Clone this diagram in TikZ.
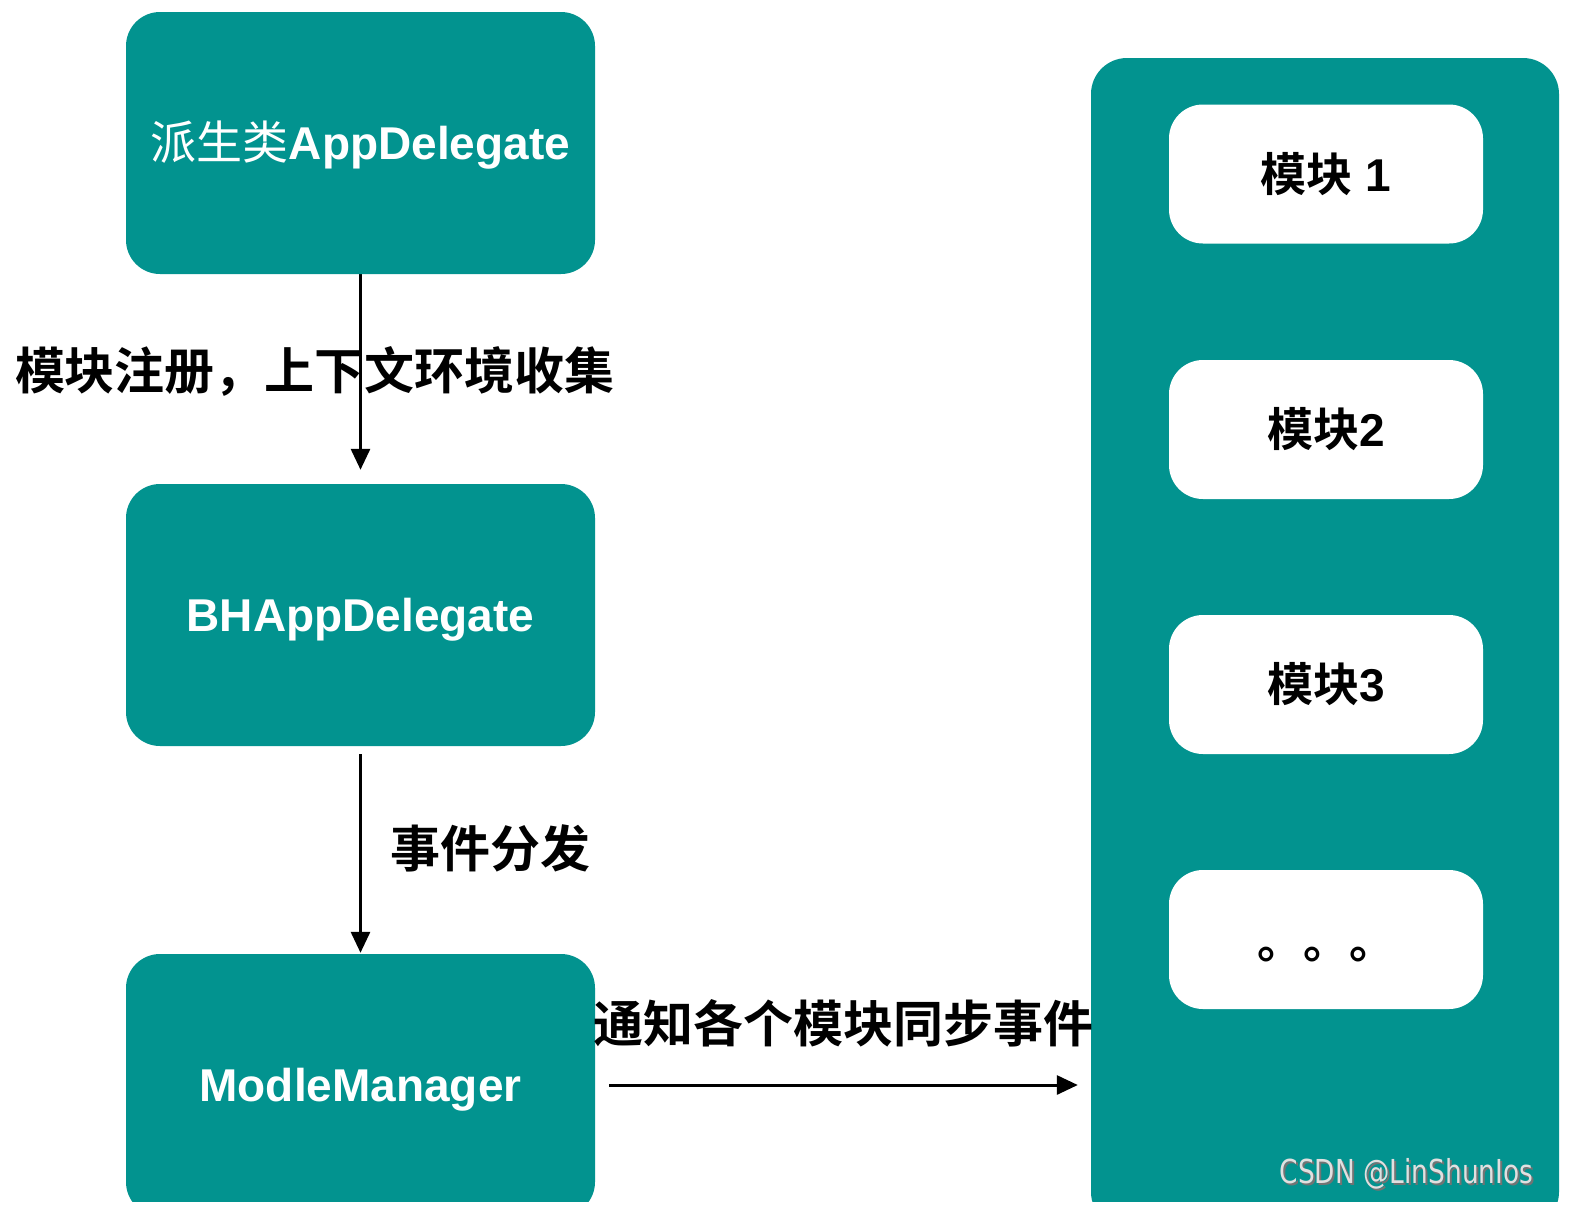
\documentclass[tikz,border=0pt]{standalone}
\usepackage{fontspec}
\setmainfont{Liberation Sans}
\newfontfamily\cjk{Noto Sans CJK SC}[BoldFont={Noto Sans CJK SC Bold}]
\newfontfamily\wmark{DejaVu Sans}
\usetikzlibrary{arrows.meta}
\definecolor{bhTeal}{RGB}{2,147,143}
\tikzset{
    TEAL_BOX/.style={fill=bhTeal, shape=rectangle, rounded corners=34pt,
        minimum width=469pt, minimum height=262pt, inner sep=0pt,
        text height=33pt, text depth=0pt,
        text=white, font={\bfseries\fontsize{46}{54}\selectfont}},
    PANEL/.style={fill=bhTeal, shape=rectangle, rounded corners=36pt,
        minimum width=468pt, minimum height=1170pt, inner sep=0pt},
    MODULE_BOX/.style={fill=white, shape=rectangle, rounded corners=34pt,
        minimum width=314pt, minimum height=139pt, inner sep=0pt,
        font={\bfseries\fontsize{46}{54}\selectfont}},
    LABEL/.style={inner sep=0pt, font={\cjk\bfseries\fontsize{50}{60}\selectfont}},
    EDGE/.style={draw=black, line width=3pt, -{Triangle[length=21pt,width=19pt]}}
}
\pgfdeclarelayer{edgelayer}
\pgfdeclarelayer{nodelayer}
\pgfsetlayers{edgelayer,nodelayer,main}

\begin{document}
\begin{tikzpicture}[x=1pt,y=-1pt]
    \useasboundingbox (0,0) rectangle (1580,1216);
    \begin{pgfonlayer}{nodelayer}
        \node [TEAL_BOX] (1) at (360.5, 143) {{\cjk\mdseries 派生类}AppDelegate};
        \node [TEAL_BOX] (2) at (360.5, 615) {BHAppDelegate};
        \node [TEAL_BOX] (3) at (360.5, 1085) {ModleManager};
        \node [PANEL] (4) at (1325, 643) {};
        \node [MODULE_BOX] (5) at (1326, 174) {{\cjk 模块} 1};
        \node [MODULE_BOX] (6) at (1326, 429.5) {{\cjk 模块}2};
        \node [MODULE_BOX] (7) at (1326, 684.5) {{\cjk 模块}3};
        \node [MODULE_BOX] (8) at (1326, 939.5) {\smash{\raisebox{-19pt}{\cjk 。。。}}};
        \node [LABEL] (9) at (315, 371) {模块注册，上下文环境收集};
        \node [LABEL] (10) at (490, 848) {事件分发};
        \node [LABEL] (11) at (843, 1023) {通知各个模块同步事件};
        \node [anchor=east, xscale=0.8, text=black!55, font={\wmark\fontsize{33}{38}\selectfont}] (12) at (1538, 1176) {CSDN @LinShunIos};
        \node [anchor=east, xscale=0.8, text=black!12, font={\wmark\fontsize{33}{38}\selectfont}] (13) at (1536, 1174) {CSDN @LinShunIos};
    \end{pgfonlayer}
    \begin{pgfonlayer}{edgelayer}
        \draw[EDGE, shorten >=14pt] (1) to (2);
        \draw[EDGE, shorten <=8pt, shorten >=1pt] (2) to (3);
        \draw[EDGE, shorten <=14pt, shorten >=13pt] (3.east) to (3.east -| 4.west);
    \end{pgfonlayer}
    \fill[white] (-10,1202) rectangle (1590,1240);
\end{tikzpicture}
\end{document}
